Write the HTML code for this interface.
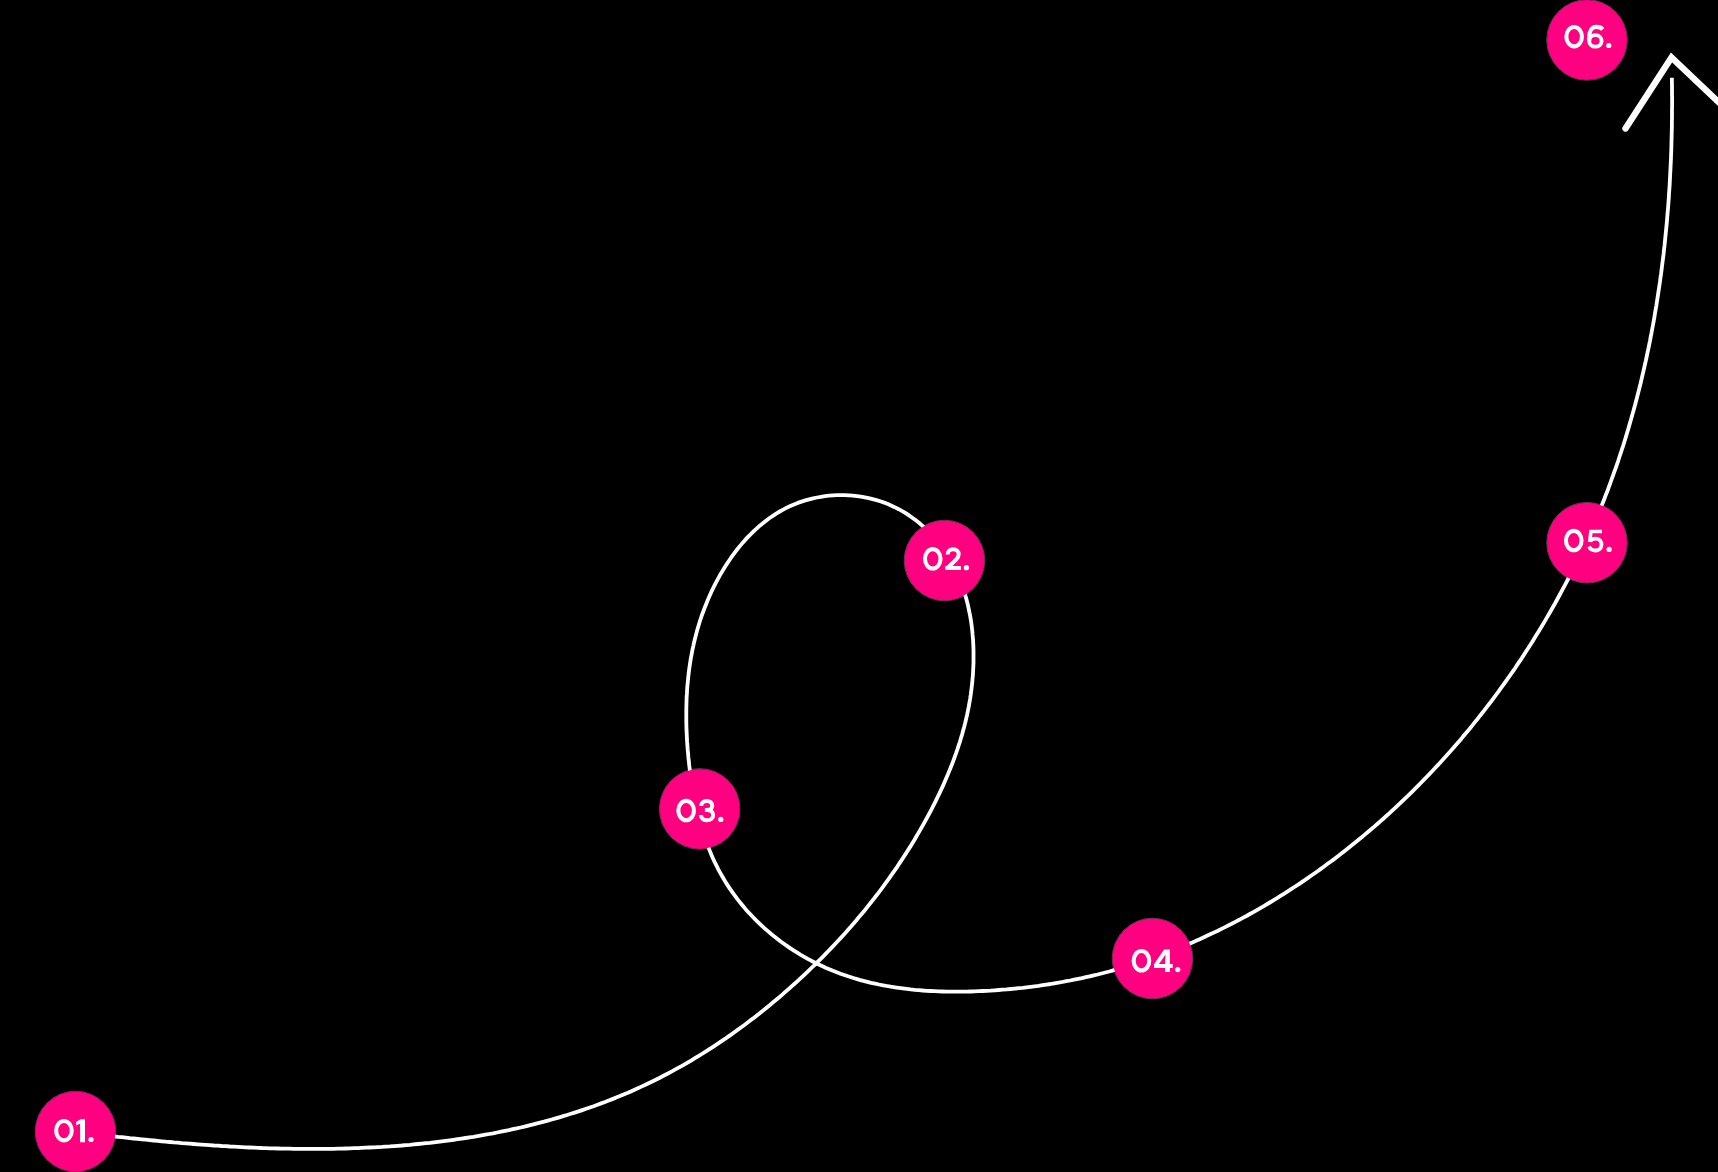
<!DOCTYPE html>
<html><head><meta charset="utf-8"><style>
html,body{margin:0;padding:0;background:#000;width:1718px;height:1172px;overflow:hidden}
svg{position:absolute;left:0;top:0;display:block}
</style></head><body>
<svg width="1718" height="1172" viewBox="0 0 1718 1172">
<path d="M78.1 1132.0 L82.1 1132.5 L86.1 1133.0 L90.0 1133.5 L94.0 1134.0 L98.0 1134.5 L102.0 1134.9 L105.9 1135.4 L109.9 1135.9 L113.9 1136.3 L117.9 1136.8 L121.9 1137.2 L125.9 1137.6 L129.8 1138.1 L133.8 1138.5 L137.8 1138.9 L141.8 1139.3 L145.8 1139.7 L149.8 1140.1 L153.8 1140.5 L157.8 1140.9 L161.7 1141.3 L165.7 1141.7 L169.7 1142.0 L173.7 1142.4 L177.7 1142.7 L181.7 1143.1 L185.7 1143.4 L189.7 1143.7 L193.7 1144.0 L197.7 1144.3 L201.7 1144.6 L205.7 1144.9 L209.7 1145.2 L213.7 1145.5 L217.7 1145.7 L221.7 1146.0 L225.7 1146.2 L229.7 1146.5 L233.7 1146.7 L237.7 1146.9 L241.7 1147.1 L245.7 1147.3 L249.7 1147.5 L253.7 1147.7 L257.7 1147.8 L261.7 1148.0 L265.7 1148.1 L269.7 1148.3 L273.7 1148.4 L277.7 1148.5 L281.7 1148.6 L285.7 1148.7 L289.7 1148.7 L293.8 1148.8 L297.8 1148.9 L301.8 1148.9 L305.8 1148.9 L309.8 1148.9 L313.8 1148.9 L317.8 1148.9 L321.8 1148.9 L325.8 1148.9 L329.8 1148.8 L333.8 1148.8 L337.8 1148.7 L341.8 1148.6 L345.8 1148.5 L349.9 1148.4 L353.9 1148.2 L357.9 1148.1 L361.9 1147.9 L365.9 1147.7 L369.9 1147.5 L373.9 1147.3 L377.9 1147.1 L381.9 1146.9 L385.9 1146.6 L389.9 1146.4 L393.9 1146.1 L397.9 1145.8 L401.9 1145.5 L405.9 1145.1 L409.9 1144.8 L413.8 1144.4 L417.8 1144.0 L421.8 1143.6 L425.8 1143.2 L429.8 1142.8 L433.8 1142.3 L437.8 1141.8 L441.7 1141.3 L445.7 1140.8 L449.7 1140.3 L453.6 1139.8 L457.6 1139.2 L461.6 1138.6 L465.5 1138.0 L469.5 1137.4 L473.5 1136.8 L477.4 1136.1 L481.4 1135.4 L485.3 1134.7 L489.3 1134.0 L493.2 1133.3 L497.1 1132.5 L501.1 1131.7 L505.0 1130.9 L508.9 1130.1 L512.8 1129.2 L516.7 1128.4 L520.6 1127.5 L524.5 1126.6 L528.4 1125.6 L532.3 1124.7 L536.2 1123.7 L540.1 1122.7 L544.0 1121.7 L547.8 1120.6 L551.7 1119.5 L555.6 1118.4 L559.4 1117.3 L563.2 1116.2 L567.1 1115.0 L570.9 1113.8 L574.7 1112.6 L578.5 1111.4 L582.3 1110.1 L586.1 1108.8 L589.9 1107.5 L593.7 1106.2 L597.5 1104.8 L601.2 1103.4 L605.0 1102.0 L608.7 1100.5 L612.4 1099.1 L616.2 1097.6 L619.9 1096.1 L623.6 1094.5 L627.3 1093.0 L630.9 1091.4 L634.6 1089.7 L638.3 1088.1 L641.9 1086.4 L645.5 1084.7 L649.1 1083.0 L652.8 1081.2 L656.3 1079.5 L659.9 1077.7 L663.5 1075.8 L667.0 1074.0 L670.6 1072.1 L674.1 1070.2 L677.6 1068.2 L681.1 1066.3 L684.6 1064.3 L688.0 1062.3 L691.5 1060.3 L694.9 1058.2 L698.4 1056.1 L701.8 1054.0 L705.2 1051.9 L708.6 1049.7 L711.9 1047.6 L715.3 1045.4 L718.6 1043.1 L721.9 1040.9 L725.3 1038.7 L728.5 1036.4 L731.8 1034.1 L735.1 1031.7 L738.3 1029.4 L741.6 1027.0 L744.8 1024.7 L748.0 1022.3 L751.2 1019.8 L754.4 1017.4 L757.5 1014.9 L760.7 1012.4 L763.8 1009.9 L766.9 1007.4 L770.0 1004.9 L773.1 1002.3 L776.2 999.8 L779.3 997.2 L782.3 994.6 L785.3 991.9 L788.4 989.3 L791.3 986.6 L794.3 984.0 L797.3 981.3 L800.2 978.6 L803.2 975.8 L806.1 973.1 L809.0 970.3 L811.9 967.5 L814.8 964.8 L817.6 961.9 L820.5 959.1 L823.3 956.3 L826.1 953.4 L828.9 950.5 L831.7 947.6 L834.4 944.7 L837.2 941.8 L839.9 938.9 L842.6 935.9 L845.3 932.9 L847.9 929.9 L850.6 926.9 L853.2 923.9 L855.8 920.9 L858.4 917.8 L861.0 914.7 L863.6 911.7 L866.1 908.6 L868.6 905.4 L871.1 902.3 L873.6 899.1 L876.0 896.0 L878.5 892.8 L880.9 889.6 L883.3 886.4 L885.6 883.1 L888.0 879.9 L890.3 876.6 L892.6 873.4 L894.9 870.1 L897.2 866.8 L899.4 863.4 L901.6 860.1 L903.8 856.7 L906.0 853.4 L908.1 850.0 L910.3 846.6 L912.4 843.2 L914.5 839.8 L916.5 836.3 L918.5 832.9 L920.5 829.4 L922.5 825.9 L924.5 822.4 L926.4 818.9 L928.3 815.4 L930.2 811.8 L932.0 808.3 L933.9 804.7 L935.7 801.1 L937.4 797.5 L939.2 793.9 L940.9 790.3 L942.6 786.6 L944.2 783.0 L945.8 779.3 L947.4 775.6 L948.9 771.9 L950.4 768.2 L951.9 764.5 L953.3 760.8 L954.7 757.0 L956.1 753.2 L957.4 749.4 L958.6 745.6 L959.9 741.8 L961.0 738.0 L962.2 734.1 L963.2 730.3 L964.3 726.4 L965.3 722.5 L966.2 718.6 L967.1 714.7 L967.9 710.8 L968.7 706.9 L969.4 702.9 L970.1 699.0 L970.7 695.0 L971.2 691.0 L971.7 687.1 L972.2 683.1 L972.5 679.1 L972.9 675.1 L973.1 671.1 L973.3 667.1 L973.5 663.1 L973.5 659.1 L973.5 655.1 L973.5 651.1 L973.4 647.0 L973.2 643.0 L973.0 639.0 L972.6 635.0 L972.3 631.1 L971.8 627.1 L971.3 623.1 L970.7 619.1 L970.0 615.2 L969.2 611.3 L968.4 607.3 L967.5 603.4 L966.5 599.5 L965.4 595.7 L964.3 591.9 L963.0 588.0 L961.7 584.3 L960.3 580.5 L958.8 576.8 L957.2 573.1 L955.5 569.5 L953.7 565.9 L951.8 562.4 L949.8 558.9 L947.7 555.5 L945.5 552.1 L943.2 548.8 L940.8 545.6 L938.4 542.5 L935.8 539.4 L933.2 536.4 L930.4 533.4 L927.6 530.6 L924.7 527.8 L921.7 525.1 L918.7 522.5 L915.5 520.1 L912.3 517.7 L909.0 515.4 L905.7 513.2 L902.2 511.1 L898.7 509.2 L895.2 507.4 L891.5 505.7 L887.9 504.1 L884.1 502.6 L880.3 501.3 L876.5 500.1 L872.6 499.1 L868.7 498.1 L864.8 497.3 L860.9 496.6 L856.9 496.1 L852.9 495.7 L848.9 495.4 L844.9 495.2 L840.9 495.1 L836.9 495.2 L832.9 495.4 L828.9 495.7 L824.9 496.2 L821.0 496.8 L817.0 497.5 L813.1 498.3 L809.2 499.3 L805.3 500.4 L801.5 501.6 L797.7 502.9 L794.0 504.4 L790.3 506.0 L786.7 507.7 L783.2 509.6 L779.7 511.5 L776.2 513.6 L772.9 515.8 L769.6 518.0 L766.4 520.4 L763.2 522.9 L760.1 525.4 L757.1 528.1 L754.1 530.8 L751.3 533.6 L748.5 536.4 L745.7 539.4 L743.0 542.4 L740.5 545.4 L737.9 548.5 L735.5 551.7 L733.1 554.9 L730.7 558.2 L728.5 561.5 L726.3 564.8 L724.1 568.2 L722.1 571.6 L720.0 575.1 L718.1 578.6 L716.2 582.1 L714.4 585.7 L712.6 589.3 L710.9 592.9 L709.3 596.6 L707.7 600.3 L706.2 604.0 L704.7 607.7 L703.3 611.5 L701.9 615.2 L700.6 619.0 L699.4 622.8 L698.2 626.7 L697.1 630.5 L696.1 634.4 L695.1 638.3 L694.1 642.2 L693.3 646.1 L692.4 650.0 L691.7 653.9 L690.9 657.9 L690.3 661.8 L689.7 665.8 L689.1 669.7 L688.6 673.7 L688.2 677.7 L687.8 681.7 L687.4 685.7 L687.1 689.7 L686.9 693.7 L686.6 697.7 L686.5 701.7 L686.4 705.7 L686.3 709.7 L686.3 713.7 L686.3 717.7 L686.3 721.7 L686.4 725.7 L686.5 729.7 L686.7 733.7 L686.9 737.7 L687.1 741.7 L687.4 745.7 L687.7 749.7 L688.1 753.7 L688.4 757.7 L688.9 761.7 L689.3 765.7 L689.8 769.7 L690.3 773.6 L690.8 777.6 L691.4 781.6 L692.0 785.5 L692.7 789.5 L693.4 793.4 L694.1 797.4 L694.9 801.3 L695.8 805.2 L696.6 809.1 L697.6 813.0 L698.6 816.9 L699.6 820.8 L700.7 824.7 L701.8 828.5 L703.0 832.3 L704.3 836.1 L705.6 839.9 L706.9 843.7 L708.4 847.4 L709.9 851.1 L711.4 854.8 L713.0 858.5 L714.7 862.1 L716.5 865.7 L718.3 869.3 L720.2 872.8 L722.2 876.3 L724.2 879.8 L726.3 883.2 L728.5 886.6 L730.7 889.9 L733.0 893.2 L735.4 896.4 L737.8 899.6 L740.3 902.7 L742.8 905.8 L745.4 908.9 L748.1 911.9 L750.8 914.8 L753.6 917.7 L756.4 920.6 L759.3 923.4 L762.2 926.1 L765.2 928.8 L768.2 931.4 L771.2 934.0 L774.4 936.6 L777.5 939.0 L780.7 941.5 L783.9 943.8 L787.2 946.1 L790.5 948.4 L793.9 950.6 L797.3 952.7 L800.7 954.8 L804.2 956.8 L807.7 958.8 L811.2 960.7 L814.7 962.5 L818.3 964.3 L822.0 966.0 L825.6 967.7 L829.3 969.3 L833.0 970.8 L836.7 972.2 L840.5 973.7 L844.3 975.0 L848.0 976.3 L851.9 977.5 L855.7 978.7 L859.5 979.8 L863.4 980.8 L867.3 981.8 L871.2 982.8 L875.1 983.6 L879.0 984.5 L883.0 985.3 L886.9 986.0 L890.8 986.7 L894.8 987.3 L898.8 987.9 L902.7 988.4 L906.7 988.9 L910.7 989.4 L914.7 989.8 L918.7 990.1 L922.7 990.5 L926.7 990.8 L930.7 991.0 L934.7 991.2 L938.7 991.4 L942.7 991.5 L946.7 991.6 L950.7 991.7 L954.7 991.7 L958.7 991.7 L962.7 991.7 L966.7 991.6 L970.7 991.5 L974.7 991.4 L978.7 991.2 L982.7 991.0 L986.7 990.8 L990.7 990.6 L994.7 990.3 L998.7 990.0 L1002.7 989.7 L1006.7 989.4 L1010.7 989.0 L1014.7 988.6 L1018.7 988.2 L1022.7 987.8 L1026.7 987.3 L1030.6 986.8 L1034.6 986.3 L1038.6 985.8 L1042.6 985.2 L1046.5 984.6 L1050.5 984.0 L1054.4 983.3 L1058.4 982.7 L1062.3 982.0 L1066.3 981.2 L1070.2 980.5 L1074.1 979.7 L1078.1 978.9 L1082.0 978.1 L1085.9 977.2 L1089.8 976.3 L1093.7 975.4 L1097.6 974.5 L1101.5 973.5 L1105.4 972.5 L1109.3 971.5 L1113.1 970.4 L1117.0 969.4 L1120.8 968.3 L1124.7 967.1 L1128.5 966.0 L1132.3 964.8 L1136.2 963.6 L1140.0 962.3 L1143.8 961.1 L1147.6 959.8 L1151.4 958.5 L1155.1 957.1 L1158.9 955.8 L1162.7 954.4 L1166.4 953.0 L1170.2 951.5 L1173.9 950.1 L1177.6 948.6 L1181.3 947.1 L1185.0 945.5 L1188.7 944.0 L1192.4 942.4 L1196.1 940.8 L1199.7 939.2 L1203.4 937.5 L1207.0 935.8 L1210.7 934.1 L1214.3 932.4 L1217.9 930.7 L1221.5 928.9 L1225.1 927.1 L1228.7 925.3 L1232.2 923.5 L1235.8 921.6 L1239.3 919.8 L1242.8 917.9 L1246.4 916.0 L1249.9 914.0 L1253.4 912.1 L1256.9 910.1 L1260.3 908.1 L1263.8 906.1 L1267.3 904.0 L1270.7 902.0 L1274.1 899.9 L1277.5 897.8 L1280.9 895.7 L1284.3 893.6 L1287.7 891.4 L1291.1 889.2 L1294.4 887.0 L1297.8 884.8 L1301.1 882.6 L1304.4 880.4 L1307.7 878.1 L1311.0 875.8 L1314.3 873.5 L1317.6 871.2 L1320.8 868.9 L1324.1 866.5 L1327.3 864.1 L1330.5 861.8 L1333.8 859.4 L1336.9 856.9 L1340.1 854.5 L1343.3 852.0 L1346.5 849.6 L1349.6 847.1 L1352.7 844.6 L1355.8 842.1 L1358.9 839.5 L1362.0 837.0 L1365.1 834.4 L1368.2 831.8 L1371.2 829.2 L1374.3 826.6 L1377.3 824.0 L1380.3 821.3 L1383.3 818.7 L1386.3 816.0 L1389.3 813.3 L1392.2 810.6 L1395.2 807.9 L1398.1 805.1 L1401.0 802.4 L1403.9 799.6 L1406.8 796.9 L1409.7 794.1 L1412.5 791.3 L1415.4 788.4 L1418.2 785.6 L1421.0 782.7 L1423.8 779.9 L1426.6 777.0 L1429.4 774.1 L1432.1 771.2 L1434.9 768.3 L1437.6 765.4 L1440.3 762.4 L1443.0 759.5 L1445.7 756.5 L1448.4 753.5 L1451.1 750.5 L1453.7 747.5 L1456.3 744.5 L1459.0 741.4 L1461.6 738.4 L1464.1 735.3 L1466.7 732.2 L1469.3 729.2 L1471.8 726.1 L1474.3 722.9 L1476.9 719.8 L1479.3 716.7 L1481.8 713.5 L1484.3 710.4 L1486.7 707.2 L1489.2 704.0 L1491.6 700.8 L1494.0 697.6 L1496.4 694.4 L1498.8 691.2 L1501.1 687.9 L1503.5 684.7 L1505.8 681.4 L1508.1 678.1 L1510.4 674.9 L1512.7 671.6 L1515.0 668.3 L1517.2 664.9 L1519.4 661.6 L1521.7 658.3 L1523.9 654.9 L1526.0 651.6 L1528.2 648.2 L1530.4 644.8 L1532.5 641.4 L1534.6 638.0 L1536.7 634.6 L1538.8 631.2 L1540.9 627.8 L1543.0 624.3 L1545.0 620.9 L1547.0 617.4 L1549.0 614.0 L1551.0 610.5 L1553.0 607.0 L1555.0 603.5 L1556.9 600.0 L1558.8 596.5 L1560.7 593.0 L1562.6 589.4 L1564.5 585.9 L1566.4 582.3 L1568.2 578.8 L1570.0 575.2 L1571.8 571.6 L1573.6 568.0 L1575.4 564.5 L1577.2 560.9 L1578.9 557.2 L1580.6 553.6 L1582.4 550.0 L1584.0 546.4 L1585.7 542.7 L1587.4 539.1 L1589.0 535.4 L1590.6 531.8 L1592.3 528.1 L1593.8 524.4 L1595.4 520.7 L1597.0 517.0 L1598.5 513.3 L1600.0 509.6 L1601.5 505.9 L1603.0 502.2 L1604.5 498.5 L1605.9 494.7 L1607.4 491.0 L1608.8 487.2 L1610.2 483.5 L1611.5 479.7 L1612.9 475.9 L1614.2 472.2 L1615.6 468.4 L1616.9 464.6 L1618.2 460.8 L1619.4 457.0 L1620.7 453.2 L1621.9 449.4 L1623.2 445.6 L1624.4 441.7 L1625.6 437.9 L1626.7 434.1 L1627.9 430.2 L1629.0 426.4 L1630.1 422.5 L1631.2 418.7 L1632.3 414.8 L1633.4 411.0 L1634.5 407.1 L1635.5 403.2 L1636.5 399.4 L1637.5 395.5 L1638.5 391.6 L1639.5 387.7 L1640.5 383.8 L1641.4 379.9 L1642.3 376.0 L1643.2 372.1 L1644.1 368.2 L1645.0 364.3 L1645.9 360.4 L1646.7 356.5 L1647.5 352.6 L1648.4 348.6 L1649.2 344.7 L1650.0 340.8 L1650.7 336.8 L1651.5 332.9 L1652.2 329.0 L1653.0 325.0 L1653.7 321.1 L1654.4 317.1 L1655.0 313.2 L1655.7 309.2 L1656.4 305.3 L1657.0 301.3 L1657.6 297.4 L1658.2 293.4 L1658.8 289.4 L1659.4 285.5 L1660.0 281.5 L1660.5 277.5 L1661.1 273.6 L1661.6 269.6 L1662.1 265.6 L1662.6 261.6 L1663.1 257.7 L1663.6 253.7 L1664.0 249.7 L1664.5 245.7 L1664.9 241.7 L1665.3 237.7 L1665.7 233.8 L1666.1 229.8 L1666.5 225.8 L1666.9 221.8 L1667.2 217.8 L1667.5 213.8 L1667.9 209.8 L1668.2 205.8 L1668.5 201.8 L1668.8 197.8 L1669.0 193.8 L1669.3 189.8 L1669.6 185.8 L1669.8 181.8 L1670.0 177.8 L1670.2 173.8 L1670.4 169.8 L1670.6 165.8 L1670.8 161.8 L1671.0 157.8 L1671.1 153.8 L1671.3 149.8 L1671.4 145.8 L1671.5 141.8 L1671.6 137.8 L1671.7 133.8 L1671.8 129.8 L1671.9 125.8 L1671.9 121.8 L1672.0 117.7 L1672.0 113.7 L1672.0 109.7 L1672.1 105.7 L1672.1 101.7 L1672.1 97.7 L1672.0 93.7 L1672.0 89.7 L1672.0 85.7 L1671.9 81.7 L1671.9 77.7" fill="none" stroke="#fff" stroke-width="3.8" stroke-linecap="butt" stroke-linejoin="round"/>
<polyline points="1625.5,128.5 1671.5,57.5 1720,103.5" fill="none" stroke="#fff" stroke-width="6.4" stroke-linecap="round" stroke-linejoin="miter"/>
<g stroke="rgba(255,255,255,0.28)" stroke-width="1">
<circle cx="75.5" cy="1131.5" r="40.3" fill="none"/>
<circle cx="944.5" cy="560.5" r="40.3" fill="none"/>
<circle cx="699.7" cy="808.9" r="40.3" fill="none"/>
<circle cx="1152.5" cy="958.5" r="40.3" fill="none"/>
<circle cx="1587" cy="542.7" r="40.3" fill="none"/>
<circle cx="1587" cy="40" r="40.3" fill="none"/>
</g>
<circle cx="75.5" cy="1131.5" r="40" fill="#ff0080"/>
<circle cx="944.5" cy="560.5" r="40" fill="#ff0080"/>
<circle cx="699.7" cy="808.9" r="40" fill="#ff0080"/>
<circle cx="1152.5" cy="958.5" r="40" fill="#ff0080"/>
<circle cx="1587" cy="542.7" r="40" fill="#ff0080"/>
<circle cx="1587" cy="40" r="40" fill="#ff0080"/>
<g transform="translate(54.1 1119.0)"><ellipse cx="9.85" cy="11.65" rx="7.8" ry="9.7" fill="none" stroke="#fff" stroke-width="4.1"/><path d="M21.9 3.1 L26.5 0.3 L30.9 0.3 L30.9 23.3 L26 23.3 L26 4.6 L22.2 6.4 Z" fill="#fff"/><circle cx="36.9" cy="20.5" r="2.6" fill="#fff"/></g>
<g transform="translate(922.9 547.2)"><ellipse cx="9.85" cy="11.65" rx="7.8" ry="9.7" fill="none" stroke="#fff" stroke-width="4.1"/><path d="M24.8 7.4 L24.8 7 C24.8 3.6 27.2 2 30.2 2 C33.5 2 35.8 4.1 35.8 7.1 C35.8 9.3 34.8 10.8 33.2 12.4 L24.6 20.8" fill="none" stroke="#fff" stroke-width="4"/><rect x="22.3" y="18.8" width="15.7" height="3.95" fill="#fff"/><circle cx="43.45" cy="20.5" r="2.6" fill="#fff"/></g>
<g transform="translate(676.3 798.9)"><ellipse cx="9.85" cy="11.65" rx="7.8" ry="9.7" fill="none" stroke="#fff" stroke-width="4.1"/><path d="M24.9 7 C24.9 3.8 27.4 2 30.5 2 C33.7 2 36 4 36 6.8 C36 9.5 33.8 11 30.8 11 L28.6 11 M28.6 11 L30.8 11 C34.4 11 36.8 13.1 36.8 16.3 C36.8 19.5 34.1 21.4 30.7 21.4 C27.3 21.4 24.7 19.4 24.7 16.2" fill="none" stroke="#fff" stroke-width="4"/><circle cx="44.5" cy="20.5" r="2.6" fill="#fff"/></g>
<g transform="translate(1131.6 949.1)"><ellipse cx="9.85" cy="11.65" rx="7.8" ry="9.7" fill="none" stroke="#fff" stroke-width="4.1"/><path fill-rule="evenodd" d="M32.45 0.3 L38.3 0.3 L38.3 15 L41.1 15 L41.1 18.9 L38.3 18.9 L38.3 22.9 L33.5 22.9 L33.5 18.9 L22.4 18.9 L22.4 15.2 Z M33.9 5.4 L27.4 15 L33.5 15 Z" fill="#fff"/><circle cx="46.15" cy="20.5" r="2.6" fill="#fff"/></g>
<g transform="translate(1563.9 528.9)"><ellipse cx="9.85" cy="11.65" rx="7.8" ry="9.7" fill="none" stroke="#fff" stroke-width="4.1"/><path d="M38.1 2.55 L27 2.55 L25.85 13.1" fill="none" stroke="#fff" stroke-width="3.6"/><path d="M26.2 12.2 C27.4 10.5 29.3 9.65 31.65 9.65 C35.2 9.65 37.6 12.3 37.6 15.65 C37.6 19.1 35 21.6 31.6 21.6 C28.5 21.6 26.2 19.9 25.2 17.6" fill="none" stroke="#fff" stroke-width="3.8"/><circle cx="45.25" cy="20.5" r="2.6" fill="#fff"/></g>
<g transform="translate(1564.3 25.0)"><ellipse cx="9.85" cy="11.65" rx="7.8" ry="9.7" fill="none" stroke="#fff" stroke-width="4.1"/><path d="M38.4 4.4 C37.2 2.8 35 1.9 32 1.9 C27.4 1.9 24.8 6.2 24.8 13.2 L24.8 15.9" fill="none" stroke="#fff" stroke-width="4.1"/><ellipse cx="31.1" cy="15.9" rx="6.2" ry="5.75" fill="none" stroke="#fff" stroke-width="3.9"/><circle cx="44.5" cy="20.5" r="2.6" fill="#fff"/></g>
</svg>
</body></html>
